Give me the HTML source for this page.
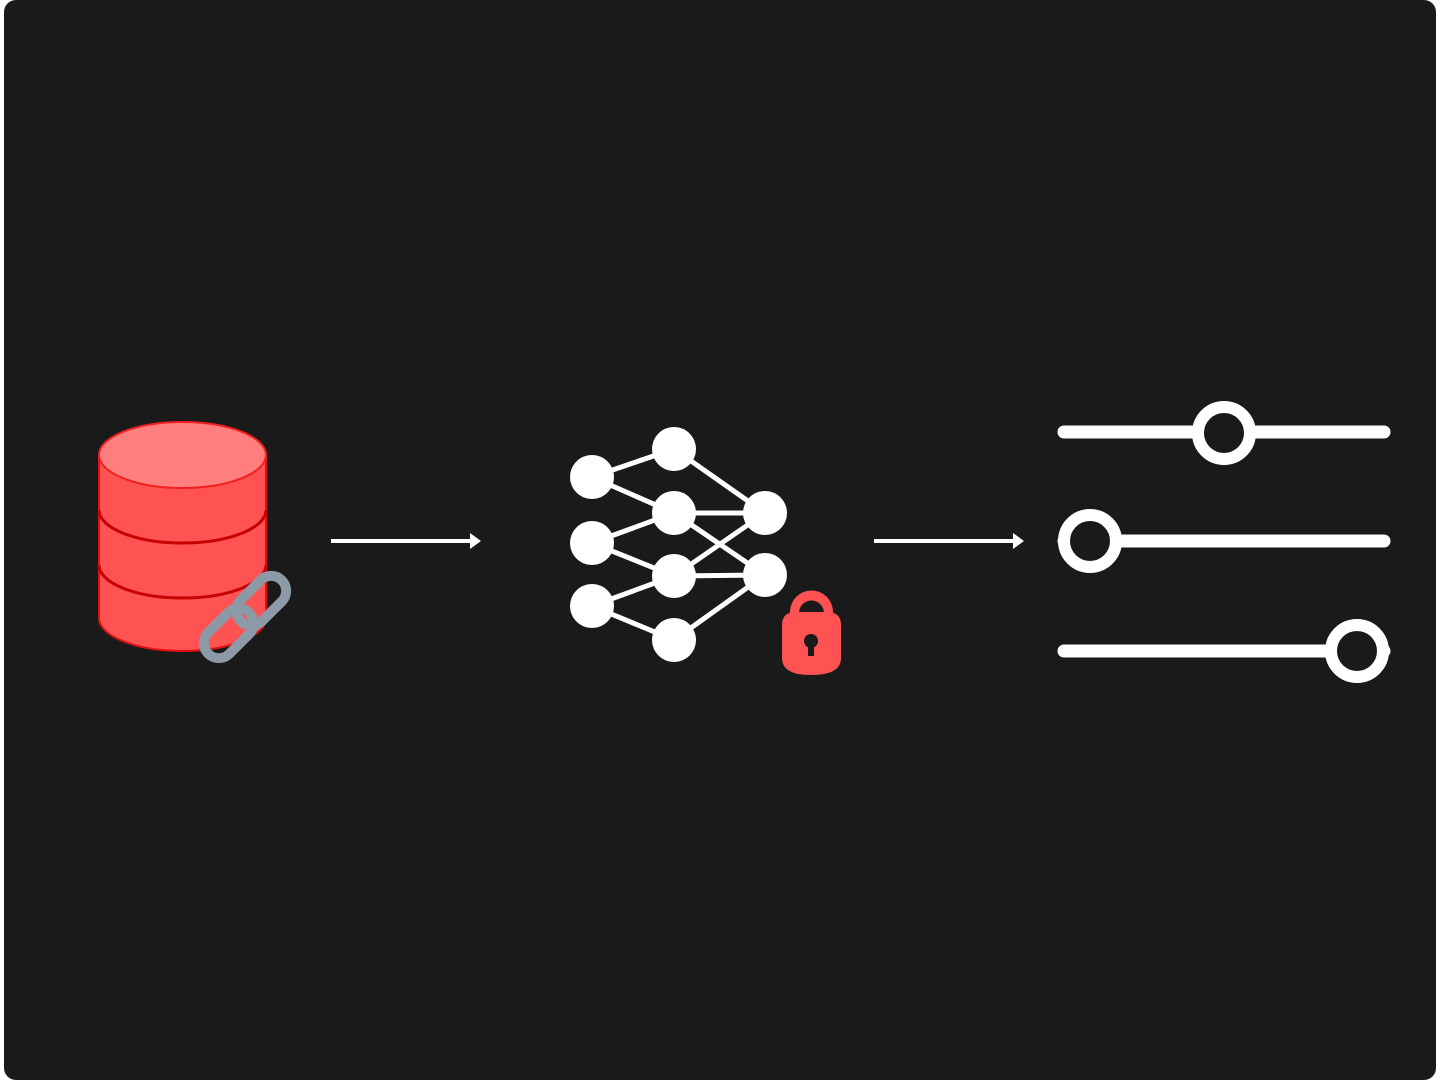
<!DOCTYPE html>
<html><head><style>
html,body{margin:0;padding:0;background:#fff;width:1440px;height:1080px;overflow:hidden}
.card{position:absolute;left:4px;top:0;width:1432px;height:1080px;background:#1a1a1a;border-radius:12px}
svg{position:absolute;left:0;top:0}
</style></head><body>
<div class="card"></div>
<svg width="1440" height="1080" viewBox="0 0 1440 1080">
<g>
<path d="M99 455 L99 618 A83.5 33 0 0 0 266 618 L266 455 Z" fill="#ff5252" stroke="#e01010" stroke-width="2"/>
<path d="M99 510 A83.5 33 0 0 0 266 510" fill="none" stroke="#c80000" stroke-width="3"/>
<path d="M99 565 A83.5 33 0 0 0 266 565" fill="none" stroke="#c80000" stroke-width="3"/>
<ellipse cx="182.5" cy="455" rx="83.5" ry="33" fill="#ff7e7e" stroke="#f02020" stroke-width="2"/>
</g>
<g transform="translate(245,617) rotate(-45)" fill="none" stroke="#8c99a6" stroke-width="10">
<rect x="-52" y="-15" width="58" height="30" rx="15"/>
<rect x="-6" y="-15" width="58" height="30" rx="15"/>
</g>
<g stroke="#fff" stroke-width="4" fill="#fff">
<line x1="331" y1="541" x2="474" y2="541"/>
<path d="M470 533 L481 541 L470 549 Z" stroke="none"/>
<line x1="874" y1="541" x2="1017" y2="541"/>
<path d="M1013 533 L1024 541 L1013 549 Z" stroke="none"/>
</g>
<g stroke="#fff" stroke-width="5">
<line x1="592" y1="477" x2="674" y2="449"/>
<line x1="592" y1="477" x2="674" y2="513"/>
<line x1="592" y1="543" x2="674" y2="513"/>
<line x1="592" y1="543" x2="674" y2="576"/>
<line x1="592" y1="606" x2="674" y2="576"/>
<line x1="592" y1="606" x2="674" y2="640"/>
<line x1="674" y1="449" x2="765" y2="513"/>
<line x1="674" y1="513" x2="765" y2="513"/>
<line x1="674" y1="513" x2="765" y2="575"/>
<line x1="674" y1="576" x2="765" y2="513"/>
<line x1="674" y1="576" x2="765" y2="575"/>
<line x1="674" y1="640" x2="765" y2="575"/>
</g>
<g fill="#fff">
<circle cx="592" cy="477" r="22"/><circle cx="592" cy="543" r="22"/><circle cx="592" cy="606" r="22"/>
<circle cx="674" cy="449" r="22"/><circle cx="674" cy="513" r="22"/><circle cx="674" cy="576" r="22"/><circle cx="674" cy="640" r="22"/>
<circle cx="765" cy="513" r="22"/><circle cx="765" cy="575" r="22"/>
</g>
<g fill="#ff5252">
<path d="M790 625 L790 612 A21.5 21.5 0 0 1 833 612 L833 625 L824 625 L824 613 A12.5 12.5 0 0 0 799 613 L799 625 Z"/>
<path d="M782 625 Q782 612 796 612 L827 612 Q841 612 841 625 L841 658 Q841 675 811 675 Q782 675 782 658 Z"/>
</g>
<circle cx="811" cy="641" r="7" fill="#1a1a1a"/>
<rect x="808" y="643" width="6" height="13" fill="#1a1a1a"/>
<g stroke="#fff" stroke-width="13" stroke-linecap="round">
<line x1="1064" y1="432" x2="1384" y2="432"/>
<line x1="1064" y1="541" x2="1384" y2="541"/>
<line x1="1064" y1="651" x2="1384" y2="651"/>
</g>
<g fill="#1a1a1a" stroke="#fff" stroke-width="12">
<circle cx="1224" cy="433" r="26"/>
<circle cx="1090" cy="541" r="26"/>
<circle cx="1357" cy="651" r="26"/>
</g>
</svg>
</body></html>
